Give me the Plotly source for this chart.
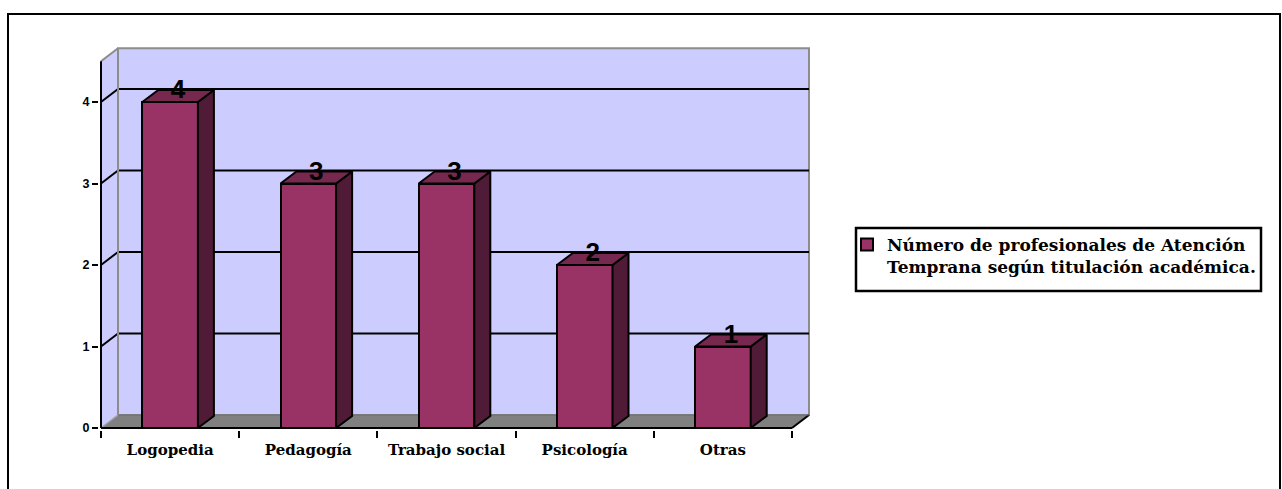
import plotly.graph_objects as go

# ---------------- data ----------------
categories = ["Logopedia", "Pedagogía", "Trabajo social", "Psicología", "Otras"]
values = [4, 3, 3, 2, 1]
y_ticks = [0, 1, 2, 3, 4]
series_name = "Número de profesionales de Atención<br>Temprana según titulación académica."

# ---------------- geometry / style constants ----------------
W, H = 1282, 489
PX = 138.2          # px per category
PY = 81.5           # px per unit value
X_FRONT_LEFT = 101  # px of front-left corner
Y_ZERO = 428        # px of value 0
PL, PR, PT, PB = 99, 810, 45, 430  # plot area in px

x_min = -0.5 - (X_FRONT_LEFT - PL) / PX
x_max = -0.5 + (PR - X_FRONT_LEFT) / PX
y_min = -(PB - Y_ZERO) / PY
y_max = (Y_ZERO - PT) / PY

DX = 17 / PX   # wall depth
DY = 13 / PY
DXB = 16 / PX  # bar depth
DYB = 12 / PY
BAR_W = 55.6 / PX
Y_TOP = 4.5
N = len(categories)
XL, XR = -0.5, N - 0.5

FRONT = "#993366"
SIDE = "#4f1b36"
TOP = "#77284f"
WALL = "#ccccff"
FLOOR = "#808080"
WALLEDGE = "#8c8c8c"


def pxx(px):
    return (px - PL) / (PR - PL)


def pxy(py):
    return (PB - py) / (PB - PT)


shapes = []
# left side wall
shapes.append(dict(type="path", layer="below", xref="x", yref="y",
                   path=f"M{XL},0 L{XL+DX},{DY} L{XL+DX},{Y_TOP+DY} L{XL},{Y_TOP} Z",
                   fillcolor=WALL, line=dict(width=0)))
# back wall
shapes.append(dict(type="rect", layer="below", xref="x", yref="y",
                   x0=XL+DX, x1=XR+DX, y0=DY, y1=Y_TOP+DY,
                   fillcolor=WALL, line=dict(color=WALLEDGE, width=2)))
# floor
shapes.append(dict(type="path", layer="below", xref="x", yref="y",
                   path=f"M{XL},0 L{XR},0 L{XR+DX},{DY} L{XL+DX},{DY} Z",
                   fillcolor=FLOOR, line=dict(width=0)))
# floor edges
shapes.append(dict(type="line", layer="below", xref="x", yref="y",
                   x0=XL, y0=0, x1=XL+DX, y1=DY, line=dict(color="#a0a0a0", width=1.5)))
shapes.append(dict(type="line", layer="below", xref="x", yref="y",
                   x0=XR, y0=0, x1=XR+DX, y1=DY, line=dict(color="black", width=2)))
shapes.append(dict(type="line", layer="below", xref="x", yref="y",
                   x0=XL+DX, y0=DY, x1=XR+DX, y1=DY, line=dict(color="#6a6a6a", width=1)))
# gridlines (side-wall diagonal + back wall horizontal)
for v in y_ticks[1:]:
    shapes.append(dict(type="line", layer="below", xref="x", yref="y",
                       x0=XL, y0=v, x1=XL+DX, y1=v+DY, line=dict(color="black", width=2)))
    shapes.append(dict(type="line", layer="below", xref="x", yref="y",
                       x0=XL+DX, y0=v+DY, x1=XR+DX, y1=v+DY, line=dict(color="black", width=2)))
# left wall edges
shapes.append(dict(type="line", layer="below", xref="x", yref="y",
                   x0=XL, y0=Y_TOP, x1=XL+DX, y1=Y_TOP+DY, line=dict(color=WALLEDGE, width=2)))
shapes.append(dict(type="line", layer="below", xref="x", yref="y",
                   x0=XL+DX, y0=DY, x1=XL+DX, y1=Y_TOP+DY, line=dict(color=WALLEDGE, width=2)))
# outer chart border
shapes.append(dict(type="rect", layer="above", xref="paper", yref="paper",
                   x0=pxx(8), x1=pxx(1280), y0=pxy(520), y1=pxy(14),
                   line=dict(color="black", width=2), fillcolor="rgba(0,0,0,0)"))
# legend box
shapes.append(dict(type="rect", layer="above", xref="paper", yref="paper",
                   x0=pxx(856), x1=pxx(1261), y0=pxy(291), y1=pxy(228),
                   line=dict(color="black", width=2.5), fillcolor="rgba(0,0,0,0)"))

fig = go.Figure()

xs = list(range(N))
fig.add_trace(go.Bar(x=xs, y=values, width=BAR_W, name=series_name,
                     marker=dict(color=FRONT, line=dict(color="black", width=2)),
                     hoverinfo="skip", showlegend=True))

# side faces
sx, sy = [], []
for x, v in zip(xs, values):
    r = x + BAR_W / 2
    sx += [r, r + DXB, r + DXB, r, r, None]
    sy += [0, DYB, v + DYB, v, 0, None]
fig.add_trace(go.Scatter(x=sx, y=sy, mode="lines", fill="toself", fillcolor=SIDE,
                         line=dict(color="black", width=2), hoverinfo="skip", showlegend=False))
# top faces
tx, ty = [], []
for x, v in zip(xs, values):
    l, r = x - BAR_W / 2, x + BAR_W / 2
    tx += [l, r, r + DXB, l + DXB, l, None]
    ty += [v, v, v + DYB, v + DYB, v, None]
fig.add_trace(go.Scatter(x=tx, y=ty, mode="lines", fill="toself", fillcolor=TOP,
                         line=dict(color="black", width=2), hoverinfo="skip", showlegend=False))

# front axes lines
fig.add_trace(go.Scatter(x=[XL, XR, None, XL, XL], y=[0, 0, None, 0, Y_TOP], mode="lines",
                         line=dict(color="black", width=2), hoverinfo="skip", showlegend=False))

# data labels
fig.add_trace(go.Scatter(x=[x + DXB / 2 for x in xs], y=[v + 10.5 / PY for v in values],
                         mode="text", text=[str(v) for v in values], textposition="middle center",
                         textfont=dict(family="Liberation Sans", size=26, color="black", weight="bold"),
                         hoverinfo="skip", showlegend=False, cliponaxis=False))

fig.update_layout(
    width=W, height=H,
    margin=dict(l=PL, r=W - PR, t=PT, b=H - PB, pad=0),
    paper_bgcolor="white", plot_bgcolor="rgba(0,0,0,0)",
    shapes=shapes,
    bargap=0,
    showlegend=True,
    legend=dict(x=pxx(847), y=pxy(227), xanchor="left", yanchor="top",
                bgcolor="rgba(0,0,0,0)", borderwidth=0, valign="top",
                font=dict(family="DejaVu Serif", size=17, color="black", weight="bold")),
    xaxis=dict(range=[x_min, x_max], showgrid=False, zeroline=False, showline=False,
               tickmode="array", tickvals=xs, ticktext=categories,
               ticks="outside", ticklen=6, tickcolor="rgba(0,0,0,0)",
               tickfont=dict(family="DejaVu Serif", size=15, color="black", weight="bold"),
               minor=dict(tickmode="array", tickvals=[i - 0.5 for i in range(N + 1)],
                          ticks="outside", ticklen=7, tickwidth=2, tickcolor="black", showgrid=False),
               fixedrange=True),
    yaxis=dict(range=[y_min, y_max], showgrid=False, zeroline=False, showline=False,
               tickmode="array", tickvals=y_ticks, ticks="outside", ticklen=6, tickwidth=2,
               tickcolor="black",
               tickfont=dict(family="Liberation Sans", size=12.5, color="black", weight="bold"),
               fixedrange=True),
)

fig.write_html("out.html", post_script="document.body.style.margin='0px';",
               config={"displayModeBar": False})
